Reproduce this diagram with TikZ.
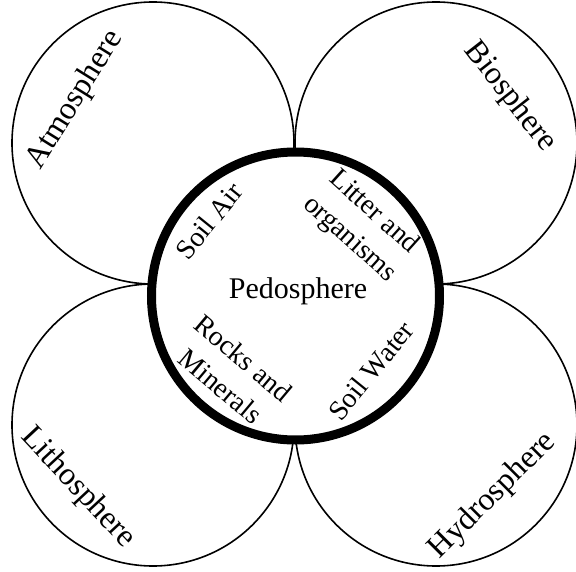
\documentclass[tikz,border=0pt]{standalone}
\usepackage{fontspec}
\setmainfont{Liberation Serif}
\usepackage{tikz}

\begin{document}
\begin{tikzpicture}[x=1pt,y=1pt,
    sphere/.style={draw,circle,line width=1.6pt,inner sep=0pt,minimum size=282pt},
    outerlbl/.style={font=\fontsize{32}{38}\selectfont},
    innerlbl/.style={font=\fontsize{28}{36}\selectfont,align=center}]
  \useasboundingbox (-295.5,-275) rectangle (280.5,296);
  % the four spheres round the soil
  \node[sphere] (atmo) at (-142.5,153) {};
  \node[sphere] (bio) at (140.5,153) {};
  \node[sphere] (litho) at (-142.5,-129) {};
  \node[sphere] (hydro) at (140.5,-129) {};
  % pedosphere on top
  \node[draw,circle,fill=white,line width=9pt,inner sep=0pt,minimum size=288pt] (pedo) at (0,0) {};
  \node[anchor=base,font=\fontsize{30}{36}\selectfont] (pedolbl) at (2.5,-2) {Pedosphere};
  \node[outerlbl,rotate=58] (atmolbl) at (-220.5,196) {Atmosphere};
  \node[outerlbl,rotate=-52] (biolbl) at (214.5,199) {Biosphere};
  \node[outerlbl,rotate=-47] (litholbl) at (-217.5,-192) {Lithosphere};
  \node[outerlbl,rotate=45] (hydrolbl) at (197.5,-200) {Hydrosphere};
  \node[innerlbl,rotate=51] (air) at (-86.5,75) {Soil Air};
  \node[innerlbl,rotate=-42] (litter) at (66,70) {Litter and\\organisms};
  \node[innerlbl,rotate=-40] (rocks) at (-63.5,-76) {Rocks and\\Minerals};
  \node[innerlbl,rotate=51] (water) at (75.5,-75) {Soil Water};
\end{tikzpicture}
\end{document}
